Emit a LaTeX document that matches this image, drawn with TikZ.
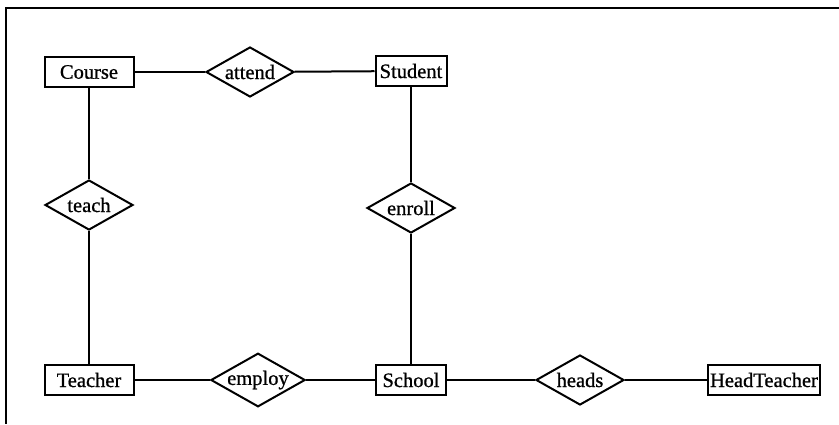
\documentclass[tikz,border=0pt]{standalone}
\usepackage{fontspec}
\setmainfont{Liberation Serif}[FakeBold=0.8]
\usetikzlibrary{shapes.geometric}
\begin{document}
\begin{tikzpicture}[x=1pt,y=-1pt,
  every node/.style={font=\fontsize{20.5}{22}\selectfont, text=black},
  entity/.style={draw, line width=2pt, rectangle, minimum height=30pt, inner sep=2pt},
  relation/.style={draw, line width=2pt, diamond, aspect=1.76, inner sep=0pt,
                   minimum width=88pt, minimum height=50pt},
  link/.style={line width=2pt}]
  \useasboundingbox (0,0) rectangle (839,424);
  % frame: top and left edges only
  \draw[line width=1.6pt] (839,8) -- (6,8) -- (6,424);

  % entities
  \node[entity, minimum width=89pt] (course) at (89,72) {Course};
  \node[entity, minimum width=71pt] (student) at (411,71) {Student};
  \node[entity, minimum width=89pt] (teacher) at (89,380) {Teacher};
  \node[entity, minimum width=70pt] (school) at (411,380) {School};
  \node[entity, minimum width=111pt] (head) at (764,380) {HeadTeacher};

  % relationships
  \node[relation] (attend) at (250,72) {attend};
  \node[relation] (teach) at (89,205) {teach};
  \node[relation] (enroll) at (411,208) {enroll};
  \node[relation] (employ) at (258,380) {employ};
  \node[relation] (heads) at (580,380) {heads};

  % connectors
  \draw[link] (course) -- (attend);
  \draw[link] (attend) -- (student);
  \draw[link] (course) -- (teach);
  \draw[link] (teach) -- (teacher);
  \draw[link] (student) -- (enroll);
  \draw[link] (enroll) -- (school);
  \draw[link] (teacher) -- (employ);
  \draw[link] (employ) -- (school);
  \draw[link] (school) -- (heads);
  \draw[link] (heads) -- (head);
\end{tikzpicture}
\end{document}
